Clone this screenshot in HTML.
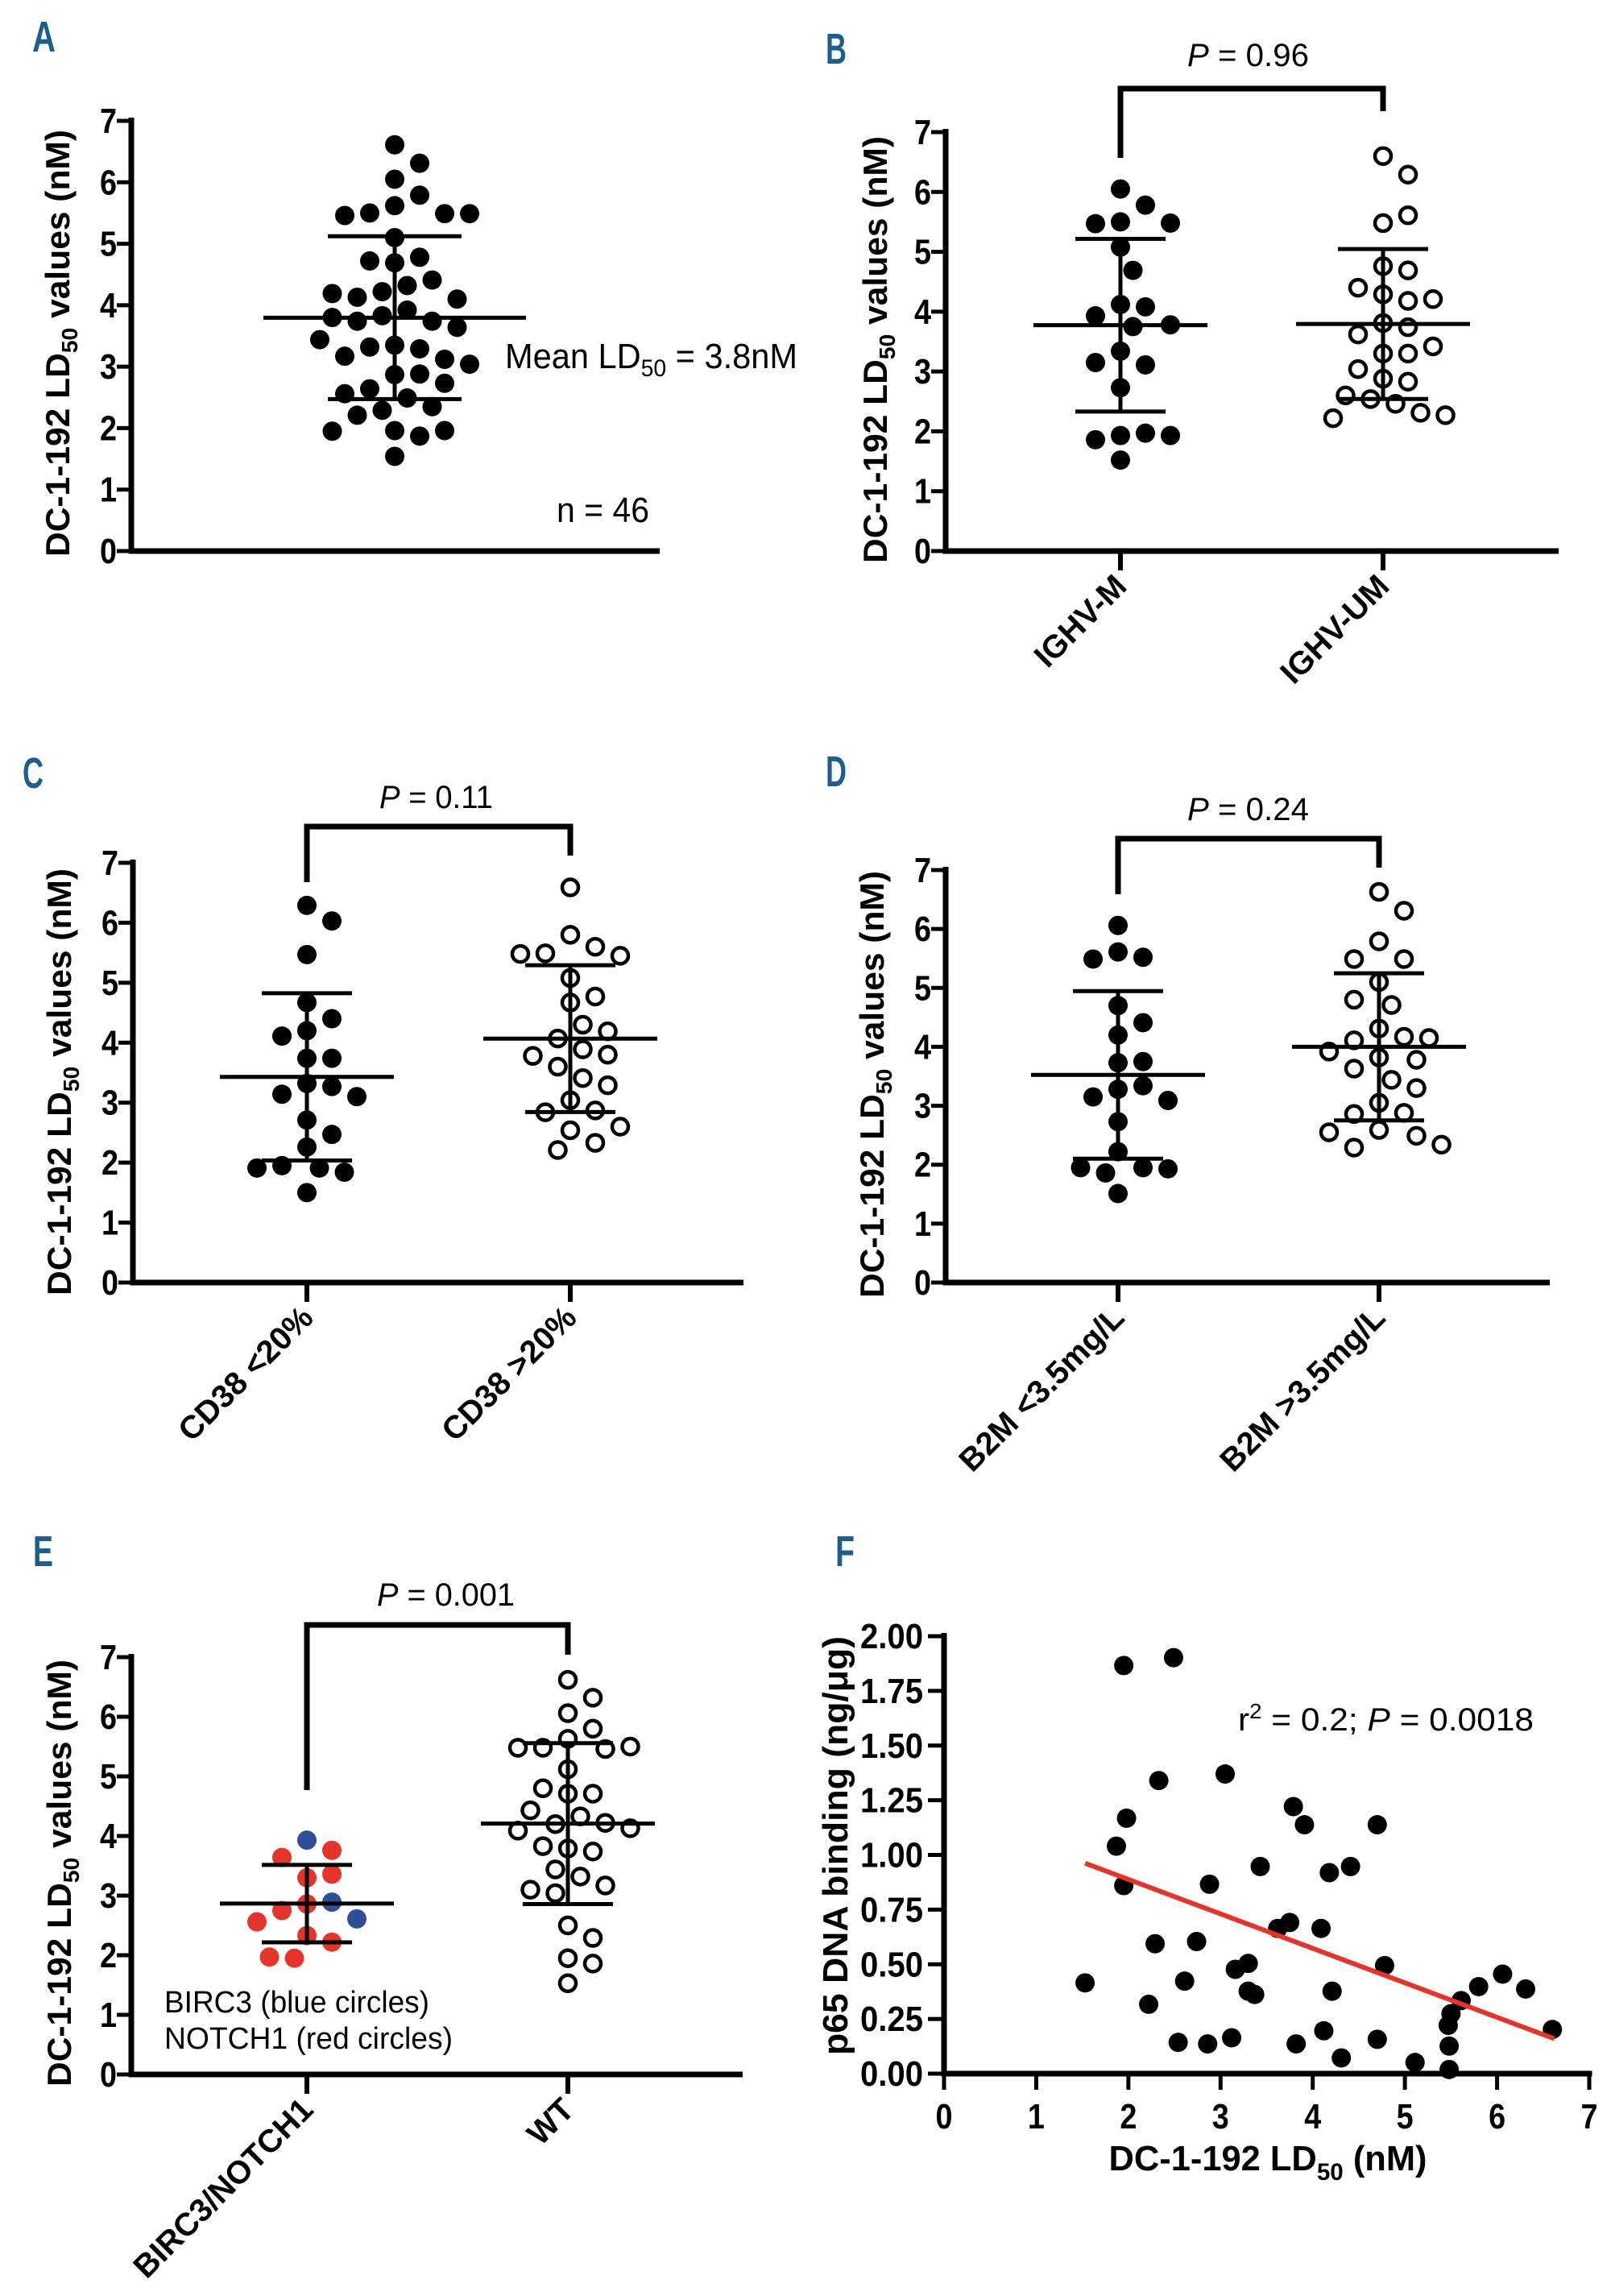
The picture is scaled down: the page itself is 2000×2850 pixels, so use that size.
<!DOCTYPE html>
<html><head><meta charset="utf-8"><style>
html,body{margin:0;padding:0;background:#fff}
svg{display:block}
text{font-family:"Liberation Sans",sans-serif}
</style></head><body>
<svg id="fig" width="2000" height="2850" viewBox="0 0 2000 2850" xmlns="http://www.w3.org/2000/svg">
<rect width="2000" height="2850" fill="#fff"/>
<g font-weight="bold" fill="#1d5e8c" font-size="54">
<text x="40" y="64" textLength="29" lengthAdjust="spacingAndGlyphs">A</text>
<text x="1025" y="79" textLength="26" lengthAdjust="spacingAndGlyphs">B</text>
<text x="28" y="978" textLength="26" lengthAdjust="spacingAndGlyphs">C</text>
<text x="1025" y="976" textLength="26" lengthAdjust="spacingAndGlyphs">D</text>
<text x="41" y="1944" textLength="25" lengthAdjust="spacingAndGlyphs">E</text>
<text x="1037" y="1944" textLength="24" lengthAdjust="spacingAndGlyphs">F</text>
</g>
</svg>
<script>
// ---- data ----
const aVals=[6.61,6.31,6.05,5.79,5.62,5.50,5.49,5.46,5.49,5.10,4.78,4.69,4.72,4.41,4.32,4.22,4.13,4.10,4.19,3.92,3.83,3.74,3.74,3.80,3.64,3.35,3.44,3.29,3.32,3.12,3.17,3.04,2.87,2.88,2.64,2.73,2.49,2.56,2.35,2.29,2.21,1.96,1.87,1.96,1.95,1.54];
const bM=[6.05,5.78,5.50,5.47,5.48,5.08,4.69,4.12,4.08,3.93,3.75,3.78,3.34,3.11,3.15,2.73,1.93,1.97,1.86,1.93,1.52];
const bUM=[6.60,6.29,5.48,5.61,4.76,4.69,4.29,4.40,4.18,4.21,3.81,3.74,3.62,3.42,3.30,3.30,3.04,2.88,2.83,2.54,2.60,2.46,2.31,2.22,2.27];
const cLow=[6.29,6.03,5.47,4.67,4.40,4.20,4.11,3.74,3.74,3.32,3.27,3.14,3.10,2.71,2.47,2.26,1.91,1.95,1.84,1.91,1.50];
const cHigh=[6.59,5.80,5.60,5.49,5.45,5.48,5.08,4.77,4.67,4.30,4.07,4.19,3.89,3.80,3.78,3.60,3.41,3.29,3.04,2.87,2.84,2.54,2.60,2.33,2.21];
const dLow=[6.06,5.61,5.52,5.49,4.70,4.41,4.20,3.73,3.75,3.28,3.34,3.15,3.09,2.73,2.22,1.95,1.86,1.95,1.93,1.51];
const dHigh=[6.63,6.31,5.79,5.49,5.49,5.10,4.71,4.80,4.31,4.17,4.11,4.15,3.82,3.78,3.92,3.63,3.44,3.30,3.05,2.88,2.86,2.59,2.49,2.55,2.29,2.34];
const eMut=[3.93,3.76,3.64,3.30,3.36,2.86,2.89,2.75,2.61,2.56,2.33,2.22,1.95,1.97];
const eMutGene=["BIRC3","NOTCH1","NOTCH1","NOTCH1","NOTCH1","NOTCH1","BIRC3","NOTCH1","BIRC3","NOTCH1","NOTCH1","NOTCH1","NOTCH1","NOTCH1"];
const eWT=[6.62,6.32,6.06,5.80,5.63,5.48,5.46,5.48,5.50,5.12,4.71,4.71,4.80,4.33,4.43,4.20,4.22,4.09,4.13,3.79,3.74,3.83,3.44,3.32,3.17,3.04,3.10,2.50,2.29,1.95,1.86,1.53];
const fX=[1.95,2.49,2.33,3.05,1.98,1.87,1.95,3.79,3.91,4.70,3.43,4.41,4.18,2.88,3.62,3.75,4.09,2.29,2.74,4.78,3.30,3.16,1.53,2.61,3.30,3.37,4.21,2.22,5.80,6.06,6.31,5.61,5.50,5.47,6.60,4.12,2.54,2.86,3.12,3.82,4.70,4.31,5.11,5.48,5.48];
const fY=[1.866,1.902,1.340,1.370,1.168,1.040,0.860,1.221,1.138,1.138,0.947,0.947,0.919,0.866,0.664,0.691,0.664,0.594,0.604,0.494,0.504,0.477,0.415,0.423,0.377,0.362,0.377,0.317,0.398,0.455,0.387,0.334,0.274,0.221,0.202,0.196,0.143,0.136,0.164,0.136,0.157,0.072,0.051,0.126,0.019];
const fitX=[1.53,6.62];
const fitY=[0.962,0.160];
const yTicks=[0,1,2,3,4,5,6,7];
const fYTicks=["0.00","0.25","0.50","0.75","1.00","1.25","1.50","1.75","2.00"];
const fXTicks=[0,1,2,3,4,5,6,7];
const geneColor={BIRC3:"#2f4f9a",NOTCH1:"#e5352b"};

const NS="http://www.w3.org/2000/svg";
const svg=document.getElementById('fig');
function mk(tag,attrs,parent){const e=document.createElementNS(NS,tag);for(const k in attrs)e.setAttribute(k,attrs[k]);(parent||svg).appendChild(e);return e;}
function mean(a){return a.reduce((s,v)=>s+v,0)/a.length;}
function sd(a){const m=mean(a);return Math.sqrt(a.reduce((s,v)=>s+(v-m)*(v-m),0)/(a.length-1));}
function swarm(ys,minD,step){const placed=[];const xs=[];
  for(let i=0;i<ys.length;i++){let off=0;
    for(let k=0;k<60;k++){const o=(k===0)?0:((k%2?1:-1)*Math.ceil(k/2)*step);
      let ok=true;for(const p of placed){const dx=p[0]-o,dy=p[1]-ys[i];if(dx*dx+dy*dy<minD*minD){ok=false;break;}}
      if(ok){off=o;break;}}
    placed.push([off,ys[i]]);xs.push(off);}
  return xs;}

function yTitle(g,x,cy){
  const t=mk('text',{x:0,y:0,transform:`translate(${x},${cy}) rotate(-90)`,'text-anchor':'middle','font-size':42,'font-weight':'bold',textLength:530,lengthAdjust:'spacingAndGlyphs'},g);
  
  
  t.innerHTML='DC-1-192 LD<tspan font-size="28" dy="10">50</tspan><tspan dy="-10"> values (nM)</tspan>';
}
function label(g,x,y,html,size,len,anchor,name){
  const t=mk('text',{x:x,y:y,'font-size':size,textLength:len,lengthAdjust:'spacingAndGlyphs','text-anchor':anchor||'start'},g);
  
  
  t.innerHTML=html;return t;
}

function dotPanel(o){
  const g=mk('g',{});
  
  
  const Y=v=>o.y0-v*(o.y0-o.y7)/7;
  const ya=mk('line',{x1:o.ax,y1:Y(7)-4,x2:o.ax,y2:o.y0+3.5,stroke:'#000','stroke-width':7},g);
  
  
  const xa=mk('line',{x1:o.ax-3.5,y1:o.y0,x2:o.xEnd,y2:o.y0,stroke:'#000','stroke-width':7},g);
  
  
  yTicks.forEach(v=>{
    const tk=mk('line',{x1:o.ax-18,y1:Y(v),x2:o.ax,y2:Y(v),stroke:'#000','stroke-width':5},g);
    
    
    const tl=mk('text',{x:o.ax-18,y:Y(v)+15,'text-anchor':'end','font-size':44,'font-weight':'bold',textLength:21,lengthAdjust:'spacingAndGlyphs'},g);
    
    
    tl.textContent=v;
  });
  yTitle(g,o.titleX,o.titleCy);
  o.groups.forEach((gr,gi)=>{
    const ys=gr.vals.map(Y);
    const xs=swarm(ys,29,15.5);
    const m=mean(gr.vals),s=sd(gr.vals);
    gr.vals.forEach((v,i)=>{
      let c;
      if(gr.open){c=mk('circle',{cx:gr.cx+xs[i],cy:ys[i],r:10,fill:'#fff',stroke:'#000','stroke-width':4.5},g);}
      else{c=mk('circle',{cx:gr.cx+xs[i],cy:ys[i],r:12,fill:gr.colors?geneColor[gr.colors[i]]:'#000'},g);}
      
      
    });
    const mw=o.meanHalf||108,sw=o.sdHalf||56;
    const ml=mk('line',{x1:gr.cx-mw,x2:gr.cx+mw,y1:Y(m),y2:Y(m),stroke:'#000','stroke-width':5},g);
    
    
    const sh=mk('line',{x1:gr.cx-sw,x2:gr.cx+sw,y1:Y(m+s),y2:Y(m+s),stroke:'#000','stroke-width':5},g);
    
    
    const sl=mk('line',{x1:gr.cx-sw,x2:gr.cx+sw,y1:Y(m-s),y2:Y(m-s),stroke:'#000','stroke-width':5},g);
    
    
    const sv=mk('line',{x1:gr.cx,x2:gr.cx,y1:Y(m+s),y2:Y(m-s),stroke:'#000','stroke-width':5},g);
    
    
    if(gr.cat){
      const ct=mk('line',{x1:gr.cx,x2:gr.cx,y1:o.y0,y2:o.y0+24,stroke:'#000','stroke-width':6},g);
      
      
      const cl=mk('text',{x:0,y:0,transform:`translate(${gr.cx+10},${o.y0+46}) rotate(-45)`,'text-anchor':'end','font-size':40,'font-weight':'bold'},g);
      
      
      cl.textContent=gr.cat;
    }
  });
  if(o.bracket){
    const b=o.bracket;
    const p=mk('path',{d:`M${o.groups[0].cx},${b.l} V${b.top} H${o.groups[1].cx} V${b.r}`,fill:'none',stroke:'#000','stroke-width':7,'stroke-linejoin':'miter'},g);
    
    
    label(g,b.tx,b.ty,'<tspan font-style="italic">P</tspan> = '+b.p,40,b.tl,'start','p-value-label');
  }
  return g;
}

const gA=dotPanel({name:'panel-a',ax:163,y0:684,y7:150,xEnd:819,titleX:86,titleCy:426,meanHalf:163,sdHalf:83,
  groups:[{vals:aVals,cx:490,open:false,pointName:'data-point'}]});
label(gA,627,457,'Mean LD<tspan font-size="30" dy="10">50</tspan><tspan dy="-10"> = 3.8nM</tspan>',44,363,'start','mean-annotation');
label(gA,691,648,'n = 46',44,115,'start','n-annotation');

dotPanel({name:'panel-b',ax:1174,y0:684,y7:164,xEnd:1935,titleX:1101,titleCy:434,
  groups:[{vals:bM,cx:1391,open:false,cat:'IGHV-M',pointName:'ighv-m-point'},{vals:bUM,cx:1717,open:true,cat:'IGHV-UM',pointName:'ighv-um-point'}],
  bracket:{top:110,l:196,r:138,tx:1474,ty:82,tl:151,p:'0.96'}});

dotPanel({name:'panel-c',ax:165,y0:1592,y7:1071,xEnd:923,titleX:88,titleCy:1343,
  groups:[{vals:cLow,cx:381,open:false,cat:'CD38 <20%',pointName:'cd38-low-point'},{vals:cHigh,cx:708,open:true,cat:'CD38 >20%',pointName:'cd38-high-point'}],
  bracket:{top:1026,l:1095,r:1062,tx:471,ty:1003,tl:141,p:'0.11'}});

dotPanel({name:'panel-d',ax:1174,y0:1592,y7:1080,xEnd:1924,titleX:1097,titleCy:1346,
  groups:[{vals:dLow,cx:1388,open:false,cat:'B2M <3.5mg/L',pointName:'b2m-low-point'},{vals:dHigh,cx:1712,open:true,cat:'B2M >3.5mg/L',pointName:'b2m-high-point'}],
  bracket:{top:1041,l:1110,r:1077,tx:1474,ty:1018,tl:151,p:'0.24'}});

const gE=dotPanel({name:'panel-e',ax:163,y0:2575,y7:2057,xEnd:922,titleX:88,titleCy:2325,
  groups:[{vals:eMut,cx:381,open:false,colors:eMutGene,cat:'BIRC3/NOTCH1',pointName:'mutated-point'},{vals:eWT,cx:705,open:true,cat:'WT',pointName:'wt-point'}],
  bracket:{top:2017,l:2222,r:2054,tx:468,ty:1993,tl:171,p:'0.001'}});
label(gE,204,2498,'BIRC3 (blue circles)',38,329,'start','legend-birc3');
label(gE,204,2543,'NOTCH1 (red circles)',38,358,'start','legend-notch1');

// ---- panel F scatter ----
(function(){
  const g=mk('g',{});
  
  
  const x0=1172,x7=1973,y0=2574,y2=2031;
  const X=v=>x0+v*(x7-x0)/7, Y=v=>y0-v*(y0-y2)/2;
  const ya=mk('line',{x1:x0,y1:y2-4,x2:x0,y2:y0+3.5,stroke:'#000','stroke-width':7},g);
  
  
  const xa=mk('line',{x1:x0-3.5,y1:y0,x2:x7+3.5,y2:y0,stroke:'#000','stroke-width':7},g);
  
  
  fYTicks.forEach(s=>{const v=parseFloat(s);
    const tk=mk('line',{x1:x0-20,x2:x0,y1:Y(v),y2:Y(v),stroke:'#000','stroke-width':5},g);
    
    
    const tl=mk('text',{x:x0-26,y:Y(v)+15,'text-anchor':'end','font-size':44,'font-weight':'bold',textLength:78,lengthAdjust:'spacingAndGlyphs'},g);
    
    
    tl.textContent=s;});
  fXTicks.forEach(v=>{
    const tk=mk('line',{x1:X(v),x2:X(v),y1:y0,y2:y0+20,stroke:'#000','stroke-width':5},g);
    
    
    const tl=mk('text',{x:X(v),y:2642,'text-anchor':'middle','font-size':44,'font-weight':'bold',textLength:21,lengthAdjust:'spacingAndGlyphs'},g);
    
    
    tl.textContent=v;});
  const xt=mk('text',{x:1574,y:2694,'text-anchor':'middle','font-size':44,'font-weight':'bold',textLength:395,lengthAdjust:'spacingAndGlyphs'},g);
  
  
  xt.innerHTML='DC-1-192 LD<tspan font-size="30" dy="12">50</tspan><tspan dy="-12"> (nM)</tspan>';
  const yt=mk('text',{x:0,y:0,transform:'translate(1052,2291) rotate(-90)','text-anchor':'middle','font-size':44,'font-weight':'bold',textLength:520,lengthAdjust:'spacingAndGlyphs'},g);
  
  
  yt.textContent='p65  DNA binding (ng/\u03bcg)';
  fX.forEach((v,i)=>{
    const c=mk('circle',{cx:X(v),cy:Y(fY[i]),r:12,fill:'#000'},g);
    
    
  });
  const fl=mk('line',{x1:X(fitX[0]),y1:Y(fitY[0]),x2:X(fitX[1]),y2:Y(fitY[1]),stroke:'#e5352b','stroke-width':6},g);
  
  
  label(g,1537,2148,'r<tspan font-size="26" dy="-15">2</tspan><tspan dy="15"> = 0.2; </tspan><tspan font-style="italic">P</tspan> = 0.0018',40,367,'start','r-squared-label');
})();
</script>
</body></html>
